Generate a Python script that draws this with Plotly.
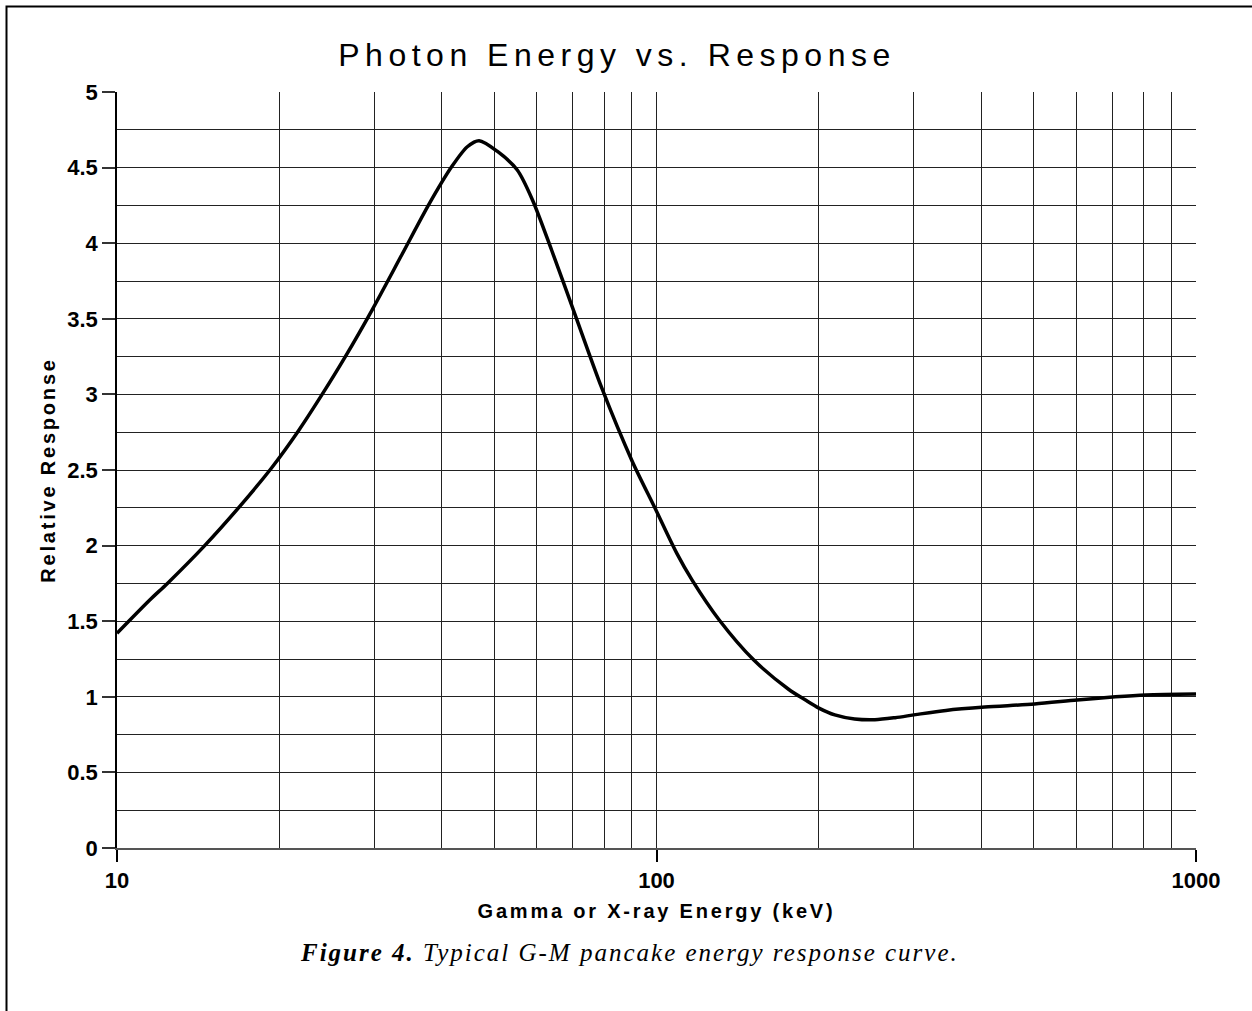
import plotly.graph_objects as go

# Data
energy_kev = [10, 11.5, 12.4, 14.45, 16.75, 19.4, 21.7, 24.0, 26.5, 29.7, 33.8, 37.9, 41.8, 44.6,
              46.9, 50.8, 55.2, 58.9, 63.9, 70.5, 79.0, 90.1, 99.3, 109, 116.5, 130.7, 151.5,
              175.7, 188.5, 200, 214, 233, 254, 277, 302, 344, 406, 502, 602, 709, 808, 1000]
relative_response = [1.42, 1.64, 1.75, 1.99, 2.245, 2.52, 2.76, 3.0, 3.25, 3.558, 3.93, 4.26,
                     4.51, 4.638, 4.678, 4.605, 4.484, 4.286, 3.955, 3.536, 3.051, 2.56, 2.25,
                     1.95, 1.77, 1.508, 1.243, 1.05, 0.98, 0.925, 0.88, 0.853, 0.848, 0.862,
                     0.882, 0.910, 0.932, 0.952, 0.979, 1.0, 1.012, 1.018]
x_tick_vals = [10, 100, 1000]
x_tick_text = ["10", "100", "1000"]
x_minor_vals = [20, 30, 40, 50, 60, 70, 80, 90, 200, 300, 400, 500, 600, 700, 800, 900]
y_tick_vals = [0, 0.5, 1, 1.5, 2, 2.5, 3, 3.5, 4, 4.5, 5]
y_tick_text = ["0", "0.5", "1", "1.5", "2", "2.5", "3", "3.5", "4", "4.5", "5"]

W, H = 1252, 1011
L, R, T, B = 117, 1196, 92, 848

def px_x(p):
    return (p - L) / (R - L)

def px_y(p):
    return (B - p) / (B - T)

fig = go.Figure()
fig.add_trace(go.Scatter(
    x=energy_kev, y=relative_response, mode="lines",
    line=dict(color="black", width=3.5, shape="spline", smoothing=0.8),
    showlegend=False, hoverinfo="x+y",
))

sans = "Liberation Sans, Arial, sans-serif"
tick_font = dict(family=sans, size=22, color="black", weight="bold")
axis_title_font = dict(family=sans, size=20, color="black", weight="bold")

fig.update_layout(
    width=W, height=H,
    margin=dict(l=L, r=W - R, t=T, b=H - B),
    paper_bgcolor="white", plot_bgcolor="white",
    title=dict(text="Photon Energy vs. Response", x=617 / W, xref="container", xanchor="center",
               y=1 - 55 / H, yref="container", yanchor="middle",
               font=dict(family=sans, size=32, color="black")),
    xaxis=dict(
        type="log", range=[1, 3],
        tickvals=x_tick_vals, ticktext=x_tick_text,
        ticks="outside", ticklen=12, tickwidth=1.5, tickcolor="black",
        tickfont=tick_font,
        showgrid=True, gridcolor="#222", gridwidth=1.2,
        minor=dict(tickvals=x_minor_vals, showgrid=True, gridcolor="#222", gridwidth=1.2, ticks=""),
        showline=True, linecolor="#555", linewidth=1.5,
        zeroline=False,
        title=dict(text="Gamma or X-ray Energy (keV)", font=axis_title_font, standoff=12),
    ),
    yaxis=dict(
        range=[0, 5],
        tickvals=y_tick_vals, ticktext=y_tick_text,
        ticks="outside", ticklen=13, tickwidth=1.5, tickcolor="#333",
        tickfont=tick_font,
        showgrid=True, gridcolor="#222", gridwidth=1.2,
        minor=dict(dtick=0.25, showgrid=True, gridcolor="#222", gridwidth=1.2, ticks=""),
        showline=True, linecolor="black", linewidth=1.5,
        zeroline=False,
        title=dict(text="Relative Response", font=axis_title_font, standoff=6),
    ),
)

# Outer frame of the figure
fig.add_shape(type="rect", xref="paper", yref="paper",
              x0=px_x(6.5), x1=px_x(W + 20), y0=px_y(H + 20), y1=px_y(6.5),
              line=dict(color="black", width=2), fillcolor="rgba(0,0,0,0)", layer="above")

# Caption
fig.add_annotation(
    text="<b>Figure 4.</b> Typical G-M pancake energy response curve.",
    xref="paper", yref="paper", x=px_x(629), y=px_y(952), xanchor="center", yanchor="middle",
    showarrow=False,
    font=dict(family="Liberation Serif, Times New Roman, serif", size=25, color="black", style="italic"),
)

post = """
document.body.style.margin = '0';
var gd = document.getElementById('{plot_id}');
gd.querySelectorAll('.gtitle').forEach(function(e){ e.style.letterSpacing = '5.5px'; });
gd.querySelectorAll('.xtitle, .ytitle').forEach(function(e){ e.style.letterSpacing = '2.8px'; });
gd.querySelectorAll('.annotation-text').forEach(function(e){ e.style.letterSpacing = '2px'; });
"""

fig.write_html("out.html", post_script=post, config={"displayModeBar": False})
